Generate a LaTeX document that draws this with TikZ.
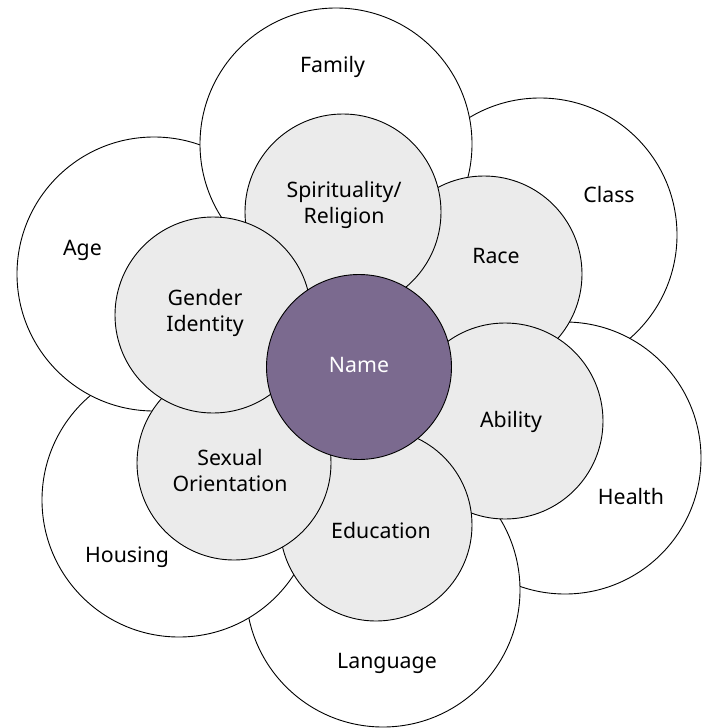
\documentclass[tikz,border=0pt]{standalone}
\usepackage{fontspec}
\setmainfont{Noto Sans}
\definecolor{innergray}{HTML}{EBEBEB}
\definecolor{namepurple}{HTML}{7B6A8F}
\tikzset{
  outerc/.style={circle, draw=black, line width=0.9pt, fill=white, inner sep=0pt, outer sep=0pt, minimum size=#1},
  innerc/.style={circle, draw=black, line width=0.9pt, fill=innergray, inner sep=0pt, outer sep=0pt, minimum size=#1},
  namec/.style={circle, draw=black, line width=0.9pt, fill=namepurple, inner sep=0pt, outer sep=0pt, minimum size=#1},
  lbl/.style={anchor=base, inner sep=0pt, align=center, font=\fontsize{21.3}{26}\selectfont, text=black},
}
\begin{document}
\begin{tikzpicture}[x=1pt, y=-1pt]
\useasboundingbox (0,0) rectangle (709,728);
% outer circles
\node[outerc=274pt] (class) at (540,235) {};
\node[outerc=272pt] (health) at (565,458) {};
\node[outerc=274pt] (language) at (383,590) {};
\node[outerc=274pt] (housing) at (179,500) {};
\node[outerc=274pt] (age) at (154,274) {};
\node[outerc=272pt] (family) at (336,144) {};
% inner circles
\node[innerc=196pt] (race) at (484,274) {};
\node[innerc=196pt] (ability) at (505,421) {};
\node[innerc=192pt] (education) at (376,525) {};
\node[innerc=194pt] (sexual) at (234,463) {};
\node[innerc=196pt] (spirit) at (343,212) {};
\node[innerc=196pt] (gender) at (213,315) {};
% centre
\node[namec=185pt] (name) at (359,367) {};
% labels
\node[lbl] (tfamily) at (332.5,72) {Family};
\node[lbl] (tclass) at (609,202) {Class};
\node[lbl] (tage) at (82.5,255) {Age};
\node[lbl] (thealth) at (631,504) {Health};
\node[lbl] (thousing) at (127,562) {Housing};
\node[lbl] (tlanguage) at (387,668) {Language};
\node[lbl] (tspirit) at (344,223) {Spirituality/\\Religion};
\node[lbl] (trace) at (496,263) {Race};
\node[lbl] (tgender) at (205,331) {Gender\\Identity};
\node[lbl] (tability) at (511,427) {Ability};
\node[lbl] (tsexual) at (230,491) {Sexual\\Orientation};
\node[lbl] (teducation) at (381,538) {Education};
\node[lbl, text=white] (tname) at (359,372) {Name};
\end{tikzpicture}
\end{document}
